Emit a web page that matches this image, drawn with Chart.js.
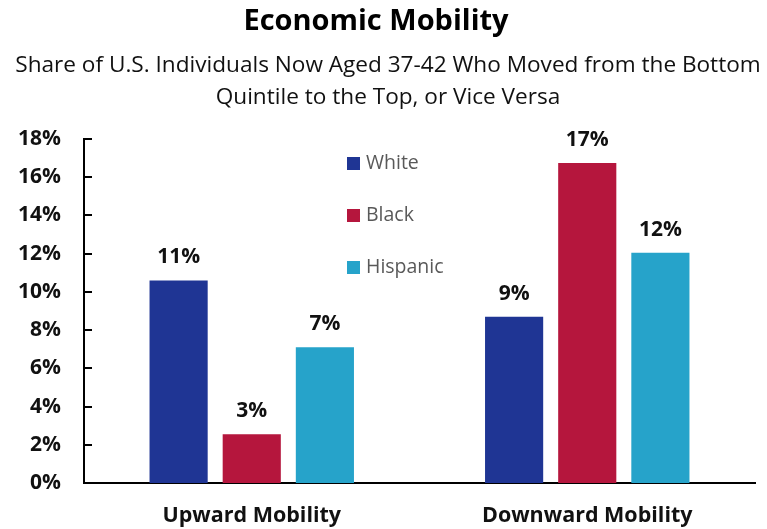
<!DOCTYPE html>
<html><head><meta charset="utf-8">
<script src="https://cdn.jsdelivr.net/npm/chart.js@4"></script>
<style>html,body{margin:0;padding:0;background:#fff}#w{width:767px;height:529px}</style>
</head><body><div id="w"><canvas id="c" width="767" height="529"></canvas></div>
<script>
const categories = ["Upward Mobility", "Downward Mobility"];
const seriesNames = ["White", "Black", "Hispanic"];
const whiteValues = [10.6, 8.7];
const blackValues = [2.55, 16.75];
const hispanicValues = [7.1, 12.05];
const yTicks = [0, 2, 4, 6, 8, 10, 12, 14, 16, 18];
const titleText = "Economic Mobility";
const subtitleLines = ["Share of U.S. Individuals Now Aged 37-42 Who Moved from the Bottom", "Quintile to the Top, or Vice Versa"];
const colors = ["#1F3594", "#B5163D", "#26A3CA"];

const FONT = "'Open Sans', 'Noto Sans', sans-serif";

const titlePlugin = {
  id: 'titles',
  afterDraw(chart) {
    const ctx = chart.ctx;
    ctx.save();
    ctx.fillStyle = '#000';
    ctx.textAlign = 'center';
    ctx.textBaseline = 'middle';
    ctx.font = "bold 29px " + FONT;
    ctx.fillText(titleText, 376, 22);
    ctx.font = "22.6px " + FONT;
    ctx.fillStyle = '#111';
    ctx.fillText(subtitleLines[0], 388, 66);
    ctx.fillText(subtitleLines[1], 388, 98);
    ctx.restore();
  }
};

const innerTicks = {
  id: 'innerTicks',
  afterDraw(chart) {
    const ctx = chart.ctx, y = chart.scales.y, ca = chart.chartArea;
    ctx.save();
    ctx.strokeStyle = '#000';
    ctx.lineWidth = 2;
    yTicks.forEach(v => {
      const py = Math.round(y.getPixelForValue(v));
      ctx.beginPath();
      ctx.moveTo(ca.left, py);
      ctx.lineTo(ca.left + 8, py);
      ctx.stroke();
    });
    ctx.restore();
  }
};

const dataLabels = {
  id: 'dataLabels',
  afterDatasetsDraw(chart) {
    const ctx = chart.ctx;
    ctx.save();
    ctx.fillStyle = '#111';
    ctx.textAlign = 'center';
    ctx.textBaseline = 'middle';
    ctx.font = "bold 21px " + FONT;
    chart.data.datasets.forEach((ds, i) => {
      chart.getDatasetMeta(i).data.forEach((el, j) => {
        ctx.fillText(Math.round(ds.data[j]) + '%', el.x, el.y - 23);
      });
    });
    ctx.restore();
  }
};

const innerLegend = {
  id: 'innerLegend',
  afterDraw(chart) {
    const ctx = chart.ctx;
    const ys = [163, 215, 267];
    ctx.save();
    ctx.textBaseline = 'middle';
    ctx.textAlign = 'left';
    ctx.font = "19.5px " + FONT;
    chart.data.datasets.forEach((ds, i) => {
      ctx.fillStyle = ds.backgroundColor;
      ctx.fillRect(347, ys[i] - 6, 13, 13);
      ctx.fillStyle = '#595959';
      ctx.fillText(ds.label, 366, ys[i]);
    });
    ctx.restore();
  }
};

new Chart(document.getElementById('c'), {
  type: 'bar',
  data: {
    labels: categories,
    datasets: [
      { label: seriesNames[0], data: whiteValues, backgroundColor: colors[0] },
      { label: seriesNames[1], data: blackValues, backgroundColor: colors[1] },
      { label: seriesNames[2], data: hispanicValues, backgroundColor: colors[2] }
    ]
  },
  options: {
    responsive: false,
    animation: false,
    devicePixelRatio: 1,
    layout: { padding: { top: 139, right: 12, left: 0, bottom: 0 } },
    datasets: { bar: { categoryPercentage: 0.654, barPercentage: 0.795 } },
    plugins: { legend: { display: false }, title: { display: false }, tooltip: { enabled: false } },
    scales: {
      x: {
        grid: { display: false, drawTicks: false },
        border: { display: true, color: '#000', width: 2 },
        ticks: { color: '#111', font: { family: FONT, size: 21.5, weight: 'bold' }, padding: 20 },
        afterFit(s) { s.height = 46; }
      },
      y: {
        min: 0, max: 18,
        grid: { display: false, drawTicks: false },
        border: { display: true, color: '#000', width: 2 },
        afterBuildTicks(s) { s.ticks = yTicks.map(v => ({ value: v })); },
        ticks: { color: '#111', font: { family: FONT, size: 21, weight: 'bold' }, padding: 23, callback: v => v + '%' },
        afterFit(s) { s.width = 84; }
      }
    }
  },
  plugins: [titlePlugin, innerTicks, dataLabels, innerLegend]
});
</script>
</body></html>
